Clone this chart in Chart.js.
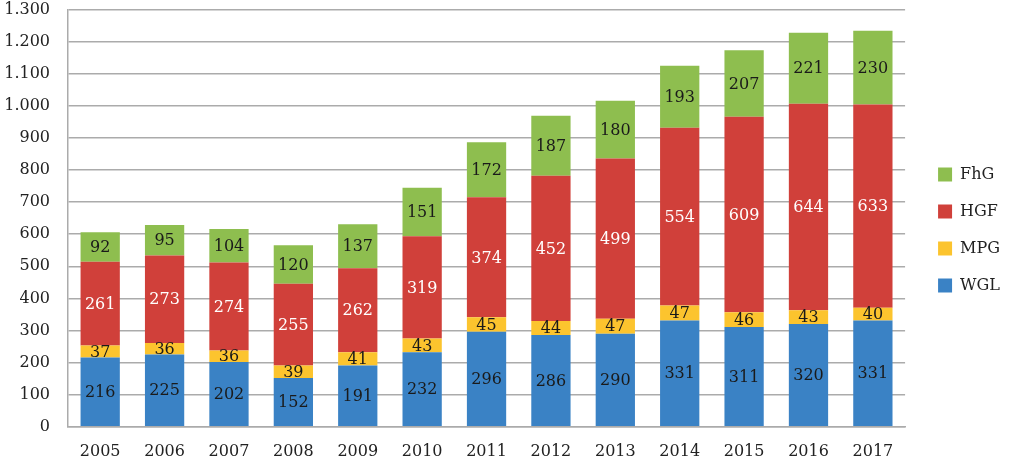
<!DOCTYPE html>
<html>
<head>
<meta charset="utf-8">
<script src="https://cdn.jsdelivr.net/npm/chart.js@4/dist/chart.umd.min.js"></script>
<style>
html,body{margin:0;padding:0;background:#fff;}
#wrap{width:1015px;height:462px;position:relative;}
</style>
</head>
<body>
<div id="wrap"><canvas id="c"></canvas></div>
<script>
const years = ['2005','2006','2007','2008','2009','2010','2011','2012','2013','2014','2015','2016','2017'];
const WGL = [216,225,202,152,191,232,296,286,290,331,311,320,331];
const MPG = [37,36,36,39,41,43,45,44,47,47,46,43,40];
const HGF = [261,273,274,255,262,319,374,452,499,554,609,644,633];
const FhG = [92,95,104,120,137,151,172,187,180,193,207,221,230];

const FONT = "'DejaVu Serif', 'Liberation Serif', serif";

const labelPlugin = {
  id: 'segLabels',
  afterDatasetsDraw(chart) {
    const ctx = chart.ctx;
    ctx.save();
    ctx.font = "16px " + FONT;
    ctx.textAlign = 'center';
    ctx.textBaseline = 'middle';
    chart.data.datasets.forEach((ds, i) => {
      const meta = chart.getDatasetMeta(i);
      meta.data.forEach((el, j) => {
        const v = ds.data[j];
        const cy = (el.y + el.base) / 2;
        ctx.fillStyle = ds.labelColor;
        ctx.fillText(String(v), el.x, cy + 1);
      });
    });
    ctx.restore();
  }
};

new Chart(document.getElementById('c'), {
  type: 'bar',
  data: {
    labels: years,
    datasets: [
      {label:'WGL', data: WGL, backgroundColor:'#3a82c5', labelColor:'#1a1a1a'},
      {label:'MPG', data: MPG, backgroundColor:'#fcc42e', labelColor:'#1a1a1a'},
      {label:'HGF', data: HGF, backgroundColor:'#d0403a', labelColor:'#ffffff'},
      {label:'FhG', data: FhG, backgroundColor:'#8ebe4f', labelColor:'#1a1a1a'}
    ]
  },
  options: {
    responsive: true,
    maintainAspectRatio: false,
    animation: false,
    layout: {padding: {left: 2, top: -16, right: 5, bottom: -14}},
    datasets: {bar: {barPercentage: 0.61, categoryPercentage: 1.0}},
    plugins: {
      legend: {
        position: 'right',
        reverse: true,
        labels: {
          font: {size: 16, family: FONT},
          color: '#222',
          boxWidth: 14,
          boxHeight: 14,
          padding: 21
        }
      },
      tooltip: {enabled: false}
    },
    scales: {
      x: {
        stacked: true,
        grid: {display: false, drawTicks: false},
        border: {display: true, color: '#ababab', width: 1.5},
        ticks: {font: {size: 16, family: FONT}, color: '#222', padding: 15}
      },
      y: {
        stacked: true,
        min: 0, max: 1300,
        afterFit: s => { s.width = 66; },
        ticks: {
          stepSize: 100,
          font: {size: 16, family: FONT},
          color: '#222',
          padding: 0,
          callback: v => v.toLocaleString('de-DE')
        },
        grid: {color: '#ababab', lineWidth: 1.5, drawTicks: true, tickLength: 18, tickColor: 'rgba(0,0,0,0)'},
        border: {display: true, color: '#ababab', width: 1.5}
      },
      gap: {
        type: 'linear',
        position: 'right',
        display: true,
        afterFit: s => { s.width = 12; },
        grid: {display: false, drawTicks: false},
        ticks: {display: false},
        border: {display: false}
      }
    }
  },
  plugins: [labelPlugin]
});
</script>
</body>
</html>
